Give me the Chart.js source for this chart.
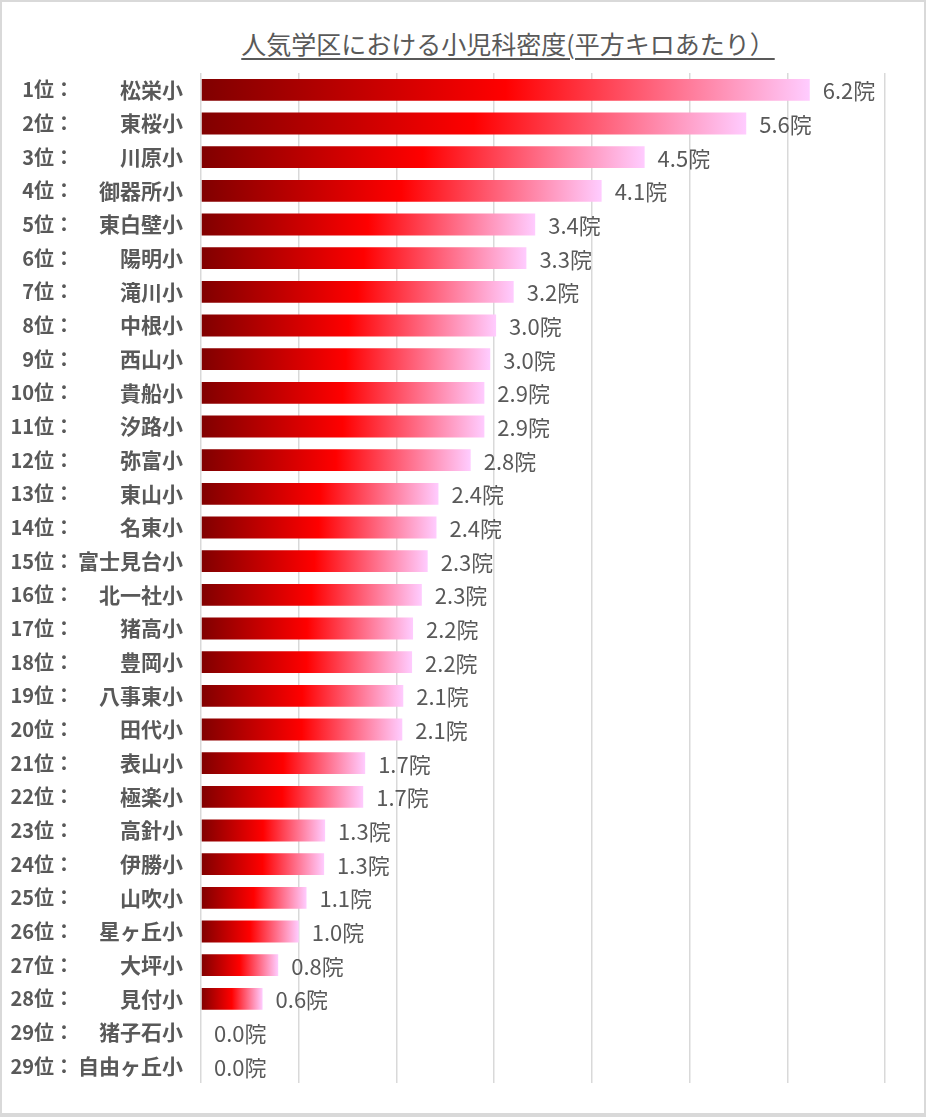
<!DOCTYPE html>
<html lang="ja">
<head>
<meta charset="utf-8">
<title>人気学区における小児科密度</title>
<script src="https://cdn.jsdelivr.net/npm/chart.js@4.4.1/dist/chart.umd.min.js"></script>
<style>
  html, body { margin: 0; padding: 0; background: #fff; }
  #frame {
    position: relative;
    width: 922px; height: 1111px;
    border: 2px solid #d9d9d9;
    border-bottom-width: 4px;
    font-family: "Noto Sans CJK JP", "Noto Sans", sans-serif;
  }
  #title {
    position: absolute; left: 0; top: 23px; width: 1012px;
    text-align: center; font-size: 25px; color: #595959;
    text-decoration: underline; text-underline-offset: 4px;
    text-decoration-thickness: 1.5px;
  }
  #wrap { position: absolute; left: -2px; top: -2px; width: 926px; height: 1117px; }
</style>
</head>
<body>
<div id="frame">
  <div id="title">人気学区における小児科密度(平方キロあたり）</div>
  <div id="wrap"><canvas id="chart"></canvas></div>
</div>
<script>
// 順位・学区名・平方キロあたりの小児科数
const ranks = [1, 2, 3, 4, 5, 6, 7, 8, 9, 10, 11, 12, 13, 14, 15,
               16, 17, 18, 19, 20, 21, 22, 23, 24, 25, 26, 27, 28, 29, 29];
const schools = ["松栄小", "東桜小", "川原小", "御器所小", "東白壁小", "陽明小", "滝川小",
                 "中根小", "西山小", "貴船小", "汐路小", "弥富小", "東山小", "名東小",
                 "富士見台小", "北一社小", "猪高小", "豊岡小", "八事東小", "田代小",
                 "表山小", "極楽小", "高針小", "伊勝小", "山吹小", "星ヶ丘小", "大坪小",
                 "見付小", "猪子石小", "自由ヶ丘小"];
const density = [6.23, 5.58, 4.54, 4.10, 3.42, 3.33, 3.20, 3.02, 2.96, 2.90, 2.90, 2.76,
                 2.43, 2.41, 2.32, 2.26, 2.17, 2.16, 2.07, 2.06, 1.68, 1.66, 1.27, 1.26,
                 1.08, 1.00, 0.79, 0.63, 0, 0];
const xTicks = [0, 1, 2, 3, 4, 5, 6, 7];

const FONT = '"Noto Sans CJK JP", "Noto Sans", sans-serif';
const GRAY = "#595959";

function barGradient(c) {
  const chart = c.chart;
  const x = chart.scales.x;
  if (!chart.chartArea || !x) return "#ff0000";
  const x0 = x.getPixelForValue(0);
  const x1 = x.getPixelForValue(c.raw);
  if (x1 - x0 < 1) return "#800000";
  const g = chart.ctx.createLinearGradient(x0, 0, x1, 0);
  g.addColorStop(0, "#800000");
  g.addColorStop(0.5, "#ff0000");
  g.addColorStop(1, "#ffccff");
  return g;
}

// 棒の先に「x.x院」を描く
const valueLabels = {
  id: "valueLabels",
  afterDatasetsDraw(chart) {
    const ctx = chart.ctx;
    const meta = chart.getDatasetMeta(0);
    ctx.save();
    ctx.font = "22px " + FONT;
    ctx.fillStyle = GRAY;
    ctx.textAlign = "left";
    ctx.textBaseline = "middle";
    meta.data.forEach((bar, i) => {
      ctx.fillText(density[i].toFixed(1) + "院", bar.x + 13, bar.y + 1);
    });
    ctx.restore();
  }
};

// 左端の「n位：」
const rankLabels = {
  id: "rankLabels",
  afterDraw(chart) {
    const ctx = chart.ctx;
    const y = chart.scales.y;
    ctx.save();
    ctx.font = "bold 20px " + FONT;
    ctx.fillStyle = GRAY;
    ctx.textAlign = "right";
    ctx.textBaseline = "middle";
    ranks.forEach((r, i) => {
      ctx.fillText(r + "位：", 74, y.getPixelForValue(i));
    });
    ctx.restore();
  }
};

new Chart(document.getElementById("chart"), {
  type: "bar",
  data: {
    labels: schools,
    datasets: [{
      data: density,
      backgroundColor: barGradient,
      borderWidth: 0,
      barPercentage: 0.65,
      categoryPercentage: 1
    }]
  },
  options: {
    indexAxis: "y",
    responsive: true,
    maintainAspectRatio: false,
    animation: false,
    layout: { padding: { top: 73, bottom: 34, right: 41, left: 0 } },
    plugins: {
      legend: { display: false },
      tooltip: { enabled: false }
    },
    scales: {
      x: {
        min: xTicks[0],
        max: xTicks[xTicks.length - 1],
        afterBuildTicks: (s) => { s.ticks = xTicks.map(v => ({ value: v })); },
        ticks: { display: false },
        grid: { color: "#d9d9d9", lineWidth: 1.5, drawTicks: false },
        border: { display: false }
      },
      y: {
        afterFit: (s) => { s.width = 201; },
        ticks: {
          color: GRAY,
          padding: 10,
          autoSkip: false,
          font: { family: FONT, size: 21, weight: "bold" }
        },
        grid: { display: false },
        border: { display: false }
      }
    }
  },
  plugins: [valueLabels, rankLabels]
});
</script>
</body>
</html>
